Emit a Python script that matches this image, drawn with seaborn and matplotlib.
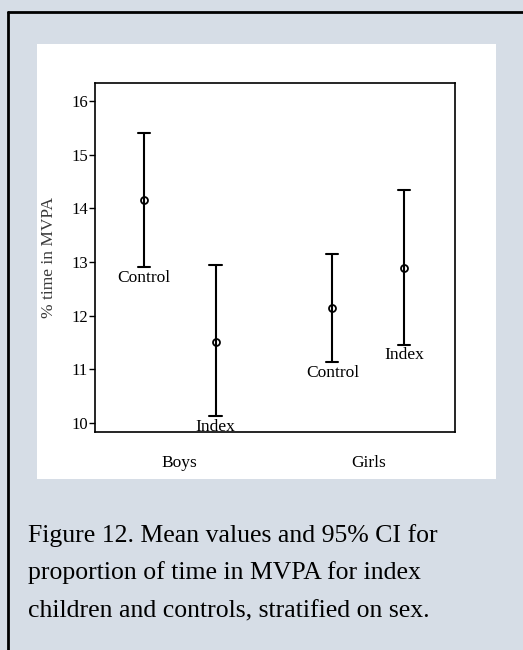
# import libraries
import pandas as pd
import matplotlib.pyplot as plt
from matplotlib.patches import Rectangle
from matplotlib.lines import Line2D
import seaborn as sns

# data: mean and 95% CI per group
sex = ['Boys', 'Boys', 'Girls', 'Girls']
group = ['Control', 'Index', 'Control', 'Index']
mean = [14.16, 11.51, 12.15, 12.89]
lower = [12.91, 10.12, 11.14, 11.46]
upper = [15.40, 12.95, 13.15, 14.34]
caption = ['Figure 12. Mean values and 95% CI for',
           'proportion of time in MVPA for index',
           'children and controls, stratified on sex.']

# long table: median of (lower, mean, upper) is the mean, full range is the CI
rows = []
for s, g, lo, m, hi in zip(sex, group, lower, mean, upper):
    for v in (lo, m, hi):
        rows.append({'sex': s, 'group': g, 'value': v})
df = pd.DataFrame(rows)

sns.set_style('white')
plt.rcParams['font.family'] = ['Liberation Serif', 'DejaVu Serif']
plt.rcParams['text.color'] = 'black'
plt.rcParams['xtick.color'] = 'black'
plt.rcParams['ytick.color'] = 'black'

fig = plt.figure(figsize=(5.23, 6.5), dpi=100)
fig.patch.set_facecolor('#d6dde6')

# white panel behind the chart
fig.patches.append(Rectangle((0.0707, 0.263), 0.8776, 0.669, transform=fig.transFigure,
                             facecolor='white', edgecolor='none', zorder=-5))
# outer border (left and top)
fig.lines.append(Line2D([0.0153, 0.0153], [0.9815, 0.0], transform=fig.transFigure,
                        color='black', linewidth=2, zorder=-4))
fig.lines.append(Line2D([0.0153, 1.0], [0.9815, 0.9815], transform=fig.transFigure,
                        color='black', linewidth=2, zorder=-4))

ax = fig.add_axes([0.1816, 0.3354, 0.688, 0.537])
sns.pointplot(data=df, x='sex', y='value', hue='group', order=['Boys', 'Girls'],
              hue_order=['Control', 'Index'], estimator='median', errorbar=('pi', 100),
              dodge=0.38, linestyle='none', markers='o', palette=['black', 'black'],
              capsize=0.065, err_kws={'linewidth': 1.5}, markersize=5,
              markerfacecolor='white', markeredgewidth=1.3, legend=False, ax=ax)

# group labels under the lower CI limits
offsets = {'Control': -0.19, 'Index': 0.19}
pos = {'Boys': 0, 'Girls': 1}
for s, g, lo in zip(sex, group, lower):
    ax.annotate(g, (pos[s] + offsets[g], lo), xytext=(0, -2), textcoords='offset points',
                ha='center', va='top', fontsize=12.5)

ax.set_ylim(9.83, 16.34)
ax.set_xlim(-0.45, 1.46)
ax.set_yticks([10, 11, 12, 13, 14, 15, 16])
ax.set_xlabel('')
ax.set_ylabel('% time in MVPA', fontsize=12.5, color='#3a3a3a', labelpad=10.5)
ax.tick_params(axis='y', left=True, length=4, width=1, labelsize=12, pad=1)
ax.tick_params(axis='x', bottom=False, labelsize=12.5, pad=13)
for sp in ax.spines.values():
    sp.set_color('black')
    sp.set_linewidth(1.2)

# caption, one line at a time
for i, line in enumerate(caption):
    fig.text(0.054, 1 - (542 + 37.5 * i) / 650, line, ha='left', va='baseline',
             fontsize=18.5)

plt.savefig('out.png', dpi=100, facecolor=fig.get_facecolor())
